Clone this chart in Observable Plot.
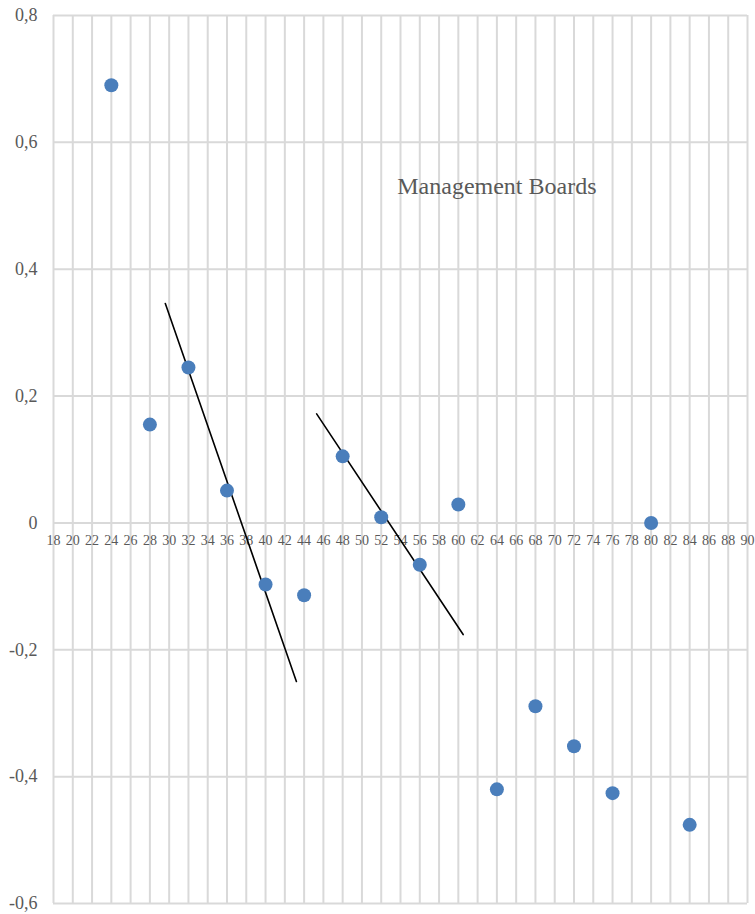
<!DOCTYPE html>
<html>
<head>
<meta charset="utf-8">
<script src="https://cdn.jsdelivr.net/npm/d3@7"></script>
<script src="https://cdn.jsdelivr.net/npm/@observablehq/plot@0.6"></script>
<style>
  body { margin: 0; background: #fff; }
</style>
</head>
<body>
<div id="chart"></div>
<script>
const ages = [24, 28, 32, 36, 40, 44, 48, 52, 56, 60, 64, 68, 72, 76, 80, 84];
const values = [0.690, 0.155, 0.245, 0.051, -0.097, -0.114, 0.105, 0.009, -0.066, 0.029, -0.420, -0.289, -0.352, -0.426, 0.000, -0.476];
const xTicks = d3.range(18, 91, 2);
const yTicks = [-0.6, -0.4, -0.2, 0, 0.2, 0.4, 0.6, 0.8];
const trend1 = [{x: 29.6, y: 0.346}, {x: 43.2, y: -0.250}];
const trend2 = [{x: 45.3, y: 0.172}, {x: 60.5, y: -0.176}];
const labelText = "Management Boards";

const points = ages.map((a, i) => ({x: a, y: values[i]}));

const chart = Plot.plot({
  width: 755,
  height: 914,
  marginLeft: 53,
  marginRight: 8,
  marginTop: 15,
  marginBottom: 11,
  style: {fontFamily: "'Liberation Serif', 'Times New Roman', serif", background: "#fff"},
  x: {domain: [18, 90], axis: null},
  y: {domain: [-0.6, 0.8], axis: null},
  marks: [
    Plot.gridX(xTicks, {stroke: "#d9d9d9", strokeOpacity: 1, strokeWidth: 2}),
    Plot.gridY(yTicks, {stroke: "#d9d9d9", strokeOpacity: 1, strokeWidth: 2}),
    Plot.axisY(yTicks, {
      label: null, tickSize: 0, tickPadding: 16, fontSize: 18, fill: "#595959",
      tickFormat: d => d === 0 ? "0" : d3.format(".1f")(d).replace(".", ",").replace("−", "-")
    }),
    Plot.text(xTicks, {x: d => d, y: 0, text: d => String(d), dy: 18, fontSize: 14, fill: "#595959"}),
    Plot.line(trend1, {x: "x", y: "y", stroke: "black", strokeWidth: 1.6}),
    Plot.line(trend2, {x: "x", y: "y", stroke: "black", strokeWidth: 1.6}),
    Plot.dot(points, {x: "x", y: "y", r: 7, fill: "#4a7ebb", stroke: "none"}),
    Plot.text([labelText], {x: 64, y: 0.53, text: d => d, fontSize: 24, fill: "#595959", textAnchor: "middle"})
  ]
});
document.getElementById("chart").appendChild(chart);
</script>
</body>
</html>
